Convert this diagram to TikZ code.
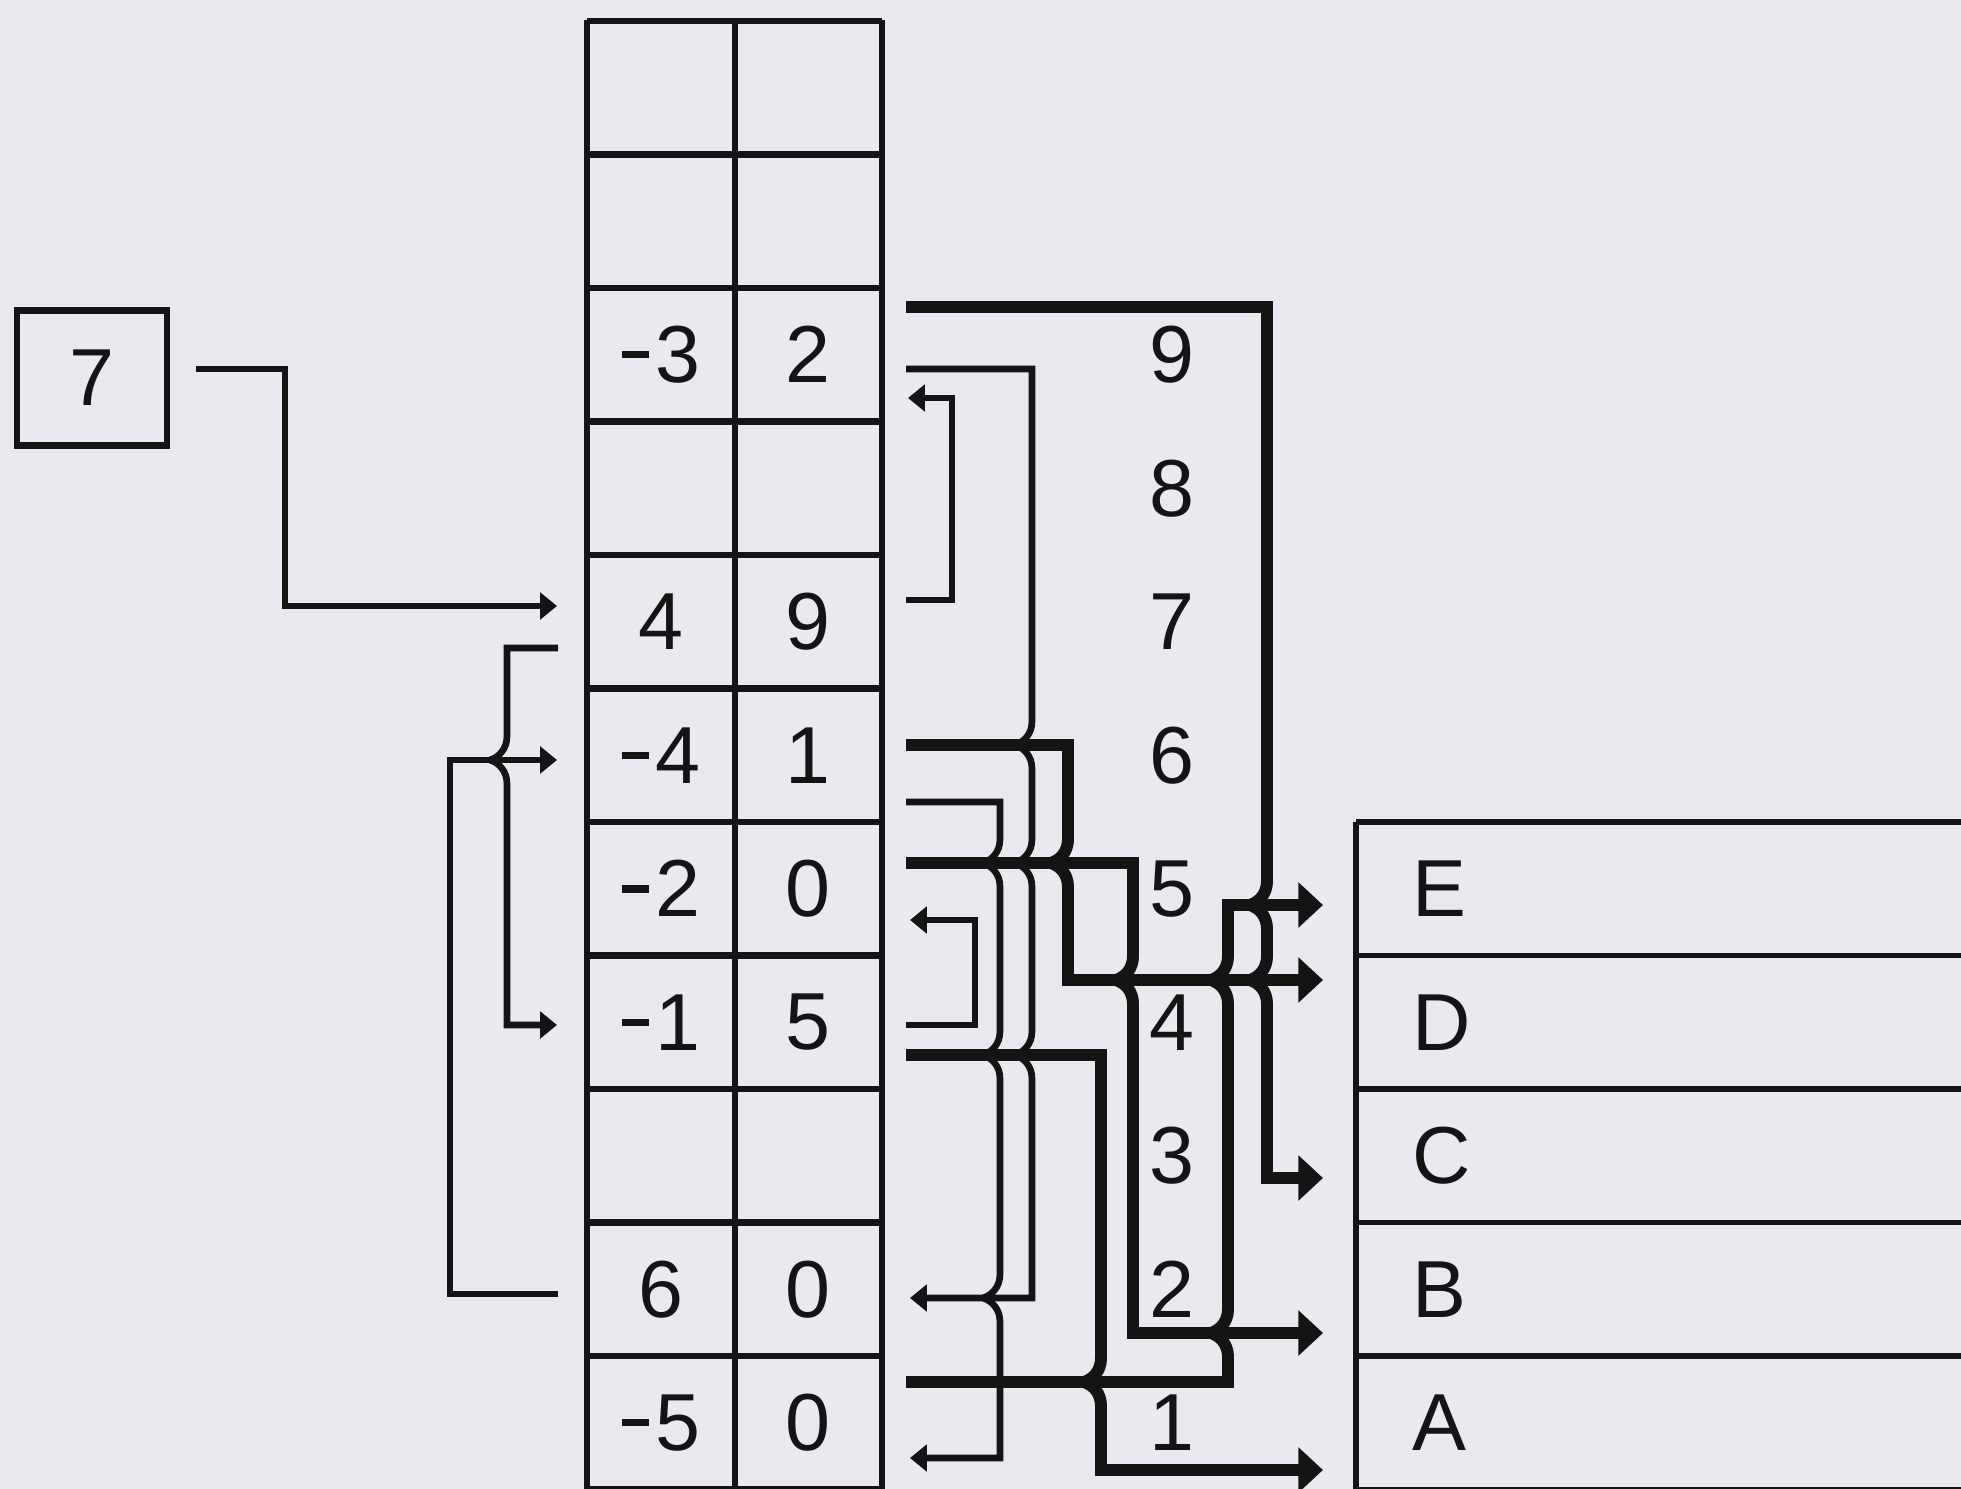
\documentclass[tikz,border=0pt]{standalone}
\usepackage{fontspec}
\setmainfont{Liberation Sans}
\usetikzlibrary{arrows.meta}
\definecolor{paper}{RGB}{232,234,239}
\definecolor{ink}{RGB}{20,20,20}
\tikzset{
  thin line/.style={draw=ink, line width=1.9pt},
  thick line/.style={draw=ink, line width=3.4pt},
  thin arrow/.style={thin line, -{Triangle[length=4.8pt,width=7.5pt]}},
  thick arrow/.style={thick line, -{Triangle[length=7pt,width=12.5pt]}},
  grid line/.style={draw=ink, line width=1.9pt},
  reg line/.style={draw=ink, line width=1.5pt},
  num/.style={font=\fontsize{23}{26}\selectfont, text=ink, inner sep=0pt},
}
% minus sign as in the cells
\newcommand\mns{\rule[0.3em]{0.34em}{0.09em}\hspace{0.07em}}
% crossing kink on a vertical line (going down / going up)
\newcommand\kinkdn[2]{-- (#1,#2-24) .. controls (#1,#2-11) and (#1-8,#2-3) .. (#1-17,#2) .. controls (#1-8,#2+3) and (#1,#2+11) .. (#1,#2+24)}
\newcommand\kinkup[2]{-- (#1,#2+24) .. controls (#1,#2+11) and (#1-8,#2+3) .. (#1-17,#2) .. controls (#1-8,#2-3) and (#1,#2-11) .. (#1,#2-24)}

\begin{document}
\begin{tikzpicture}[x=0.01cm, y=-0.01cm]
  \useasboundingbox (0,0) rectangle (1961,1489);
  \fill[paper] (0,0) rectangle (1961,1489);

  % memory table
  \foreach \i in {0,...,11}
    \draw[grid line] (587,{21+133.5*\i}) -- (882,{21+133.5*\i});
  \foreach \x in {587,735,882}
    \draw[grid line] (\x,20) -- (\x,1495);
  \foreach \r/\a/\b in {2/{\mns3}/2, 4/4/9, 5/{\mns4}/1, 6/{\mns2}/0, 7/{\mns1}/5, 9/6/0, 10/{\mns5}/0} {
    \node[num] (k\r) at (661,{21+133.5*(\r+0.5)}) {\a};
    \node[num] (p\r) at (808,{21+133.5*(\r+0.5)}) {\b};
  }
  % addresses
  \foreach \r in {2,...,10} {
    \pgfmathtruncatemacro\adr{11-\r}
    \node[num] (a\adr) at (1172,{21+133.5*(\r+0.5)}) {\adr};
  }

  % registers
  \foreach \i in {6,...,11}
    \draw[reg line] (1356,{21+133.5*\i}) -- (1975,{21+133.5*\i});
  \draw[reg line] (1356,822) -- (1356,1495);
  \foreach \r/\n in {6/E, 7/D, 8/C, 9/B, 10/A}
    \node[num, anchor=west] (reg\n) at (1412,{21+133.5*(\r+0.5)}) {\n};

  % start pointer
  \node[num, draw=ink, line width=1.8pt, minimum width=1.5cm, minimum height=1.35cm] (seven) at (92,378) {7};

  % connector ends
  \foreach \n/\x/\y in {o7/196/369, i4/557/606, l4/558/648, i7/557/1025,
      l9/558/1294, i5/557/760,
      r2k/906/307, r2p/906/369, r4p/906/600, r5k/906/745, r5p/906/802,
      r6k/906/863, r7p/906/1025, r7k/906/1055, r10k/906/1382,
      e2/908/398, e6/910/920, e9/910/1298, e10/910/1458,
      inE/1323/905, inD/1323/980, inC/1323/1178, inB/1323/1333, inA/1323/1470}
    \coordinate (\n) at (\x,\y);

  % left links
  \draw[thin arrow] (o7) -- (285,369) -- (285,606) -- (i4);
  \draw[thin arrow] (l4) -- (507,648) \kinkdn{507}{760} -- (507,1025) -- (i7);
  \draw[thin arrow] (l9) -- (450,1294) -- (450,760) -- (i5);

  % right links
  \draw[thin arrow] (r4p) -- (952,600) -- (952,398) -- (e2);
  \draw[thin arrow] (r2p) -- (1032,369) \kinkdn{1032}{745} \kinkdn{1032}{863}
    \kinkdn{1032}{1055} -- (1032,1298) -- (e9);
  \draw[thin arrow] (r5p) -- (1000,802) \kinkdn{1000}{863} \kinkdn{1000}{1055}
    \kinkdn{1000}{1298} -- (1000,1458) -- (e10);
  \draw[thin arrow] (r7p) -- (975,1025) -- (975,920) -- (e6);

  % register lines
  \draw[thick arrow] (r2k) -- (1267,307) \kinkdn{1267}{905} \kinkdn{1267}{980}
    -- (1267,1178) -- (inC);
  \draw[thick arrow] (r5k) -- (1068,745) \kinkdn{1068}{863} -- (1068,980) -- (inD);
  \draw[thick arrow] (r6k) -- (1133,863) \kinkdn{1133}{980} -- (1133,1333) -- (inB);
  \draw[thick arrow] (r7k) -- (1101,1055) \kinkdn{1101}{1382} -- (1101,1470) -- (inA);
  \draw[thick arrow] (r10k) -- (1228,1382) \kinkup{1228}{1333} \kinkup{1228}{980}
    -- (1228,905) -- (inE);
\end{tikzpicture}
\end{document}
